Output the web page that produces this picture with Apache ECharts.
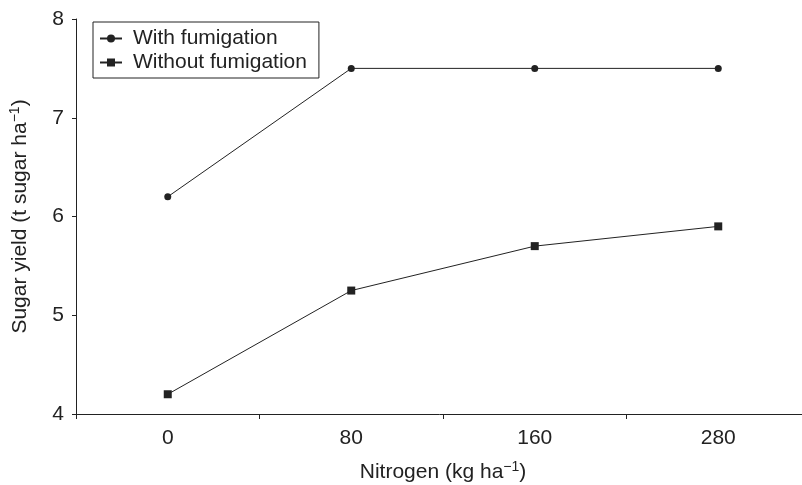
<!DOCTYPE html>
<html><head><meta charset="utf-8">
<script src="https://cdn.jsdelivr.net/npm/echarts@6/dist/echarts.min.js"></script>
<style>html,body{margin:0;padding:0;background:#fff}#c{width:802px;height:485px}</style>
</head><body><div id="c"></div>
<script>
const categories = ['0', '80', '160', '280'];
const withFumigation = [6.2, 7.5, 7.5, 7.5];
const withoutFumigation = [4.2, 5.25, 5.7, 5.9];
const yTicks = [4, 5, 6, 7, 8];

const ink = '#222';
const font = 'Liberation Sans, Arial, sans-serif';
const supStyle = { fontSize: 14, verticalAlign: 'top', padding: [0, 0, 10, 0], color: ink, fontFamily: font };
const chart = echarts.init(document.getElementById('c'));
chart.setOption({
  backgroundColor: '#fff',
  animation: false,
  textStyle: { fontFamily: font, color: ink },
  grid: { left: 76, right: -8, top: 19, bottom: 71, containLabel: false, outerBoundsMode: 'none' },
  legend: {
    left: 93, top: 22,
    orient: 'vertical',
    borderColor: ink, borderWidth: 1,
    padding: [6, 12, 5, 6],
    itemGap: 3,
    itemWidth: 22, itemHeight: 10,
    textStyle: { fontSize: 21, color: ink, fontFamily: font, padding: [0, 0, 0, 6] },
    data: ['With fumigation', 'Without fumigation']
  },
  xAxis: {
    type: 'category',
    data: categories,
    boundaryGap: true,
    axisLine: { lineStyle: { color: ink, width: 1 } },
    axisTick: { show: true, interval: 0, length: 5, lineStyle: { color: ink } },
    axisLabel: { fontSize: 21, color: ink, margin: 14, fontFamily: font },
    name: 'Nitrogen (kg ha{s|\u22121})',
    nameLocation: 'middle',
    nameGap: 46,
    nameTextStyle: { fontSize: 21, color: ink, fontFamily: font, rich: { s: supStyle } }
  },
  yAxis: {
    type: 'value',
    min: yTicks[0], max: yTicks[yTicks.length - 1], interval: 1,
    splitLine: { show: false },
    axisLine: { show: true, lineStyle: { color: ink, width: 1 } },
    axisTick: { show: true, length: 4, lineStyle: { color: ink } },
    axisLabel: { fontSize: 21, color: ink, margin: 12, fontFamily: font },
    name: 'Sugar yield (t sugar ha{s|\u22121})',
    nameLocation: 'middle',
    nameGap: 44,
    nameTextStyle: { fontSize: 21, color: ink, fontFamily: font, rich: { s: supStyle } }
  },
  series: [
    {
      name: 'With fumigation', type: 'line', data: withFumigation,
      symbol: 'circle', symbolSize: 7,
      lineStyle: { color: ink, width: 1 },
      itemStyle: { color: ink }
    },
    {
      name: 'Without fumigation', type: 'line', data: withoutFumigation,
      symbol: 'rect', symbolSize: 8,
      lineStyle: { color: ink, width: 1 },
      itemStyle: { color: ink }
    }
  ]
});
</script></body></html>
